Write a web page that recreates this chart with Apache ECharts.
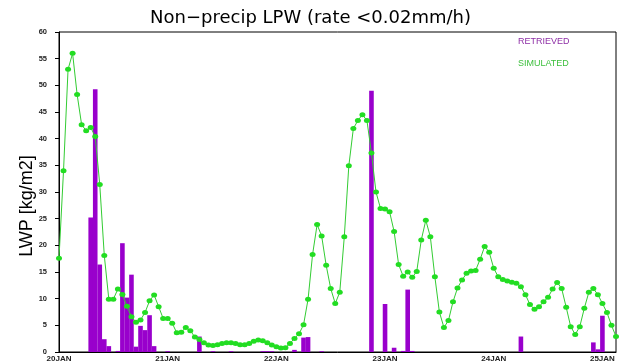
<!DOCTYPE html>
<html>
<head>
<meta charset="utf-8">
<script src="https://cdn.jsdelivr.net/npm/echarts@6/dist/echarts.min.js"></script>
<style>
  html, body { margin: 0; padding: 0; background: #ffffff; }
  #chart { width: 621px; height: 364px; }
</style>
</head>
<body>
<div id="chart"></div>
<script>
// Hourly samples, hour 0 = 20JAN 00Z
const dayLabels = ['20JAN', '21JAN', '22JAN', '23JAN', '24JAN', '25JAN'];
const lastHour = 123;

// Simulated LWP, one value per hour (kg/m2)
const simulated = [
  17.6, 34.0, 53.0, 56.0, 48.3, 42.6, 41.5, 42.1, 40.4, 31.4,
  18.1, 9.9, 9.9, 11.8, 10.8, 8.6, 6.6, 5.6, 6.0, 7.4,
  9.6, 10.7, 8.5, 6.3, 6.3, 5.4, 3.6, 3.7, 4.6, 4.0,
  2.8, 2.35, 1.75, 1.3, 1.2, 1.35, 1.6, 1.75, 1.75, 1.6,
  1.35, 1.35, 1.6, 2.0, 2.25, 2.1, 1.75, 1.3, 1.0, 0.75,
  0.8, 1.6, 2.55, 3.4, 5.1, 9.9, 18.3, 23.9, 21.75, 16.25,
  11.9, 9.1, 11.2, 21.6, 34.9, 41.9, 43.4, 44.5, 43.4, 37.3,
  30.0, 26.9, 26.8, 26.3, 22.6, 16.4, 14.2, 15.0, 14.0, 15.1,
  21.0, 24.7, 21.6, 14.1, 7.5, 4.6, 5.9, 9.4, 12.0, 13.5,
  14.75, 15.2, 15.3, 17.4, 19.8, 18.7, 15.7, 14.1, 13.6, 13.3,
  13.1, 12.9, 12.25, 10.75, 8.9, 8.0, 8.5, 9.4, 10.25, 11.8,
  13.05, 11.9, 8.4, 4.75, 3.3, 4.75, 8.2, 11.2, 11.9, 10.75,
  9.1, 7.4, 5.0, 2.9
];

// Retrieved LWP: hours with a non-zero retrieval and their values
const retrievedHours = [
  7, 8, 9, 10, 11, 13, 14, 15, 16, 17, 18, 19, 20, 21, 24,
  31, 34, 38, 45, 46, 47, 52, 54, 55, 58,
  69, 72, 74, 76, 77, 78, 102, 118, 119, 120
];
const retrievedValues = [
  25.2, 49.25, 16.4, 2.4, 1.1, 0.2, 20.4, 10.2, 14.5, 1.0, 4.9, 4.1, 6.9, 1.1, 0.15,
  2.9, 0.15, 0.15, 0.15, 0.15, 0.15, 0.4, 2.7, 2.8, 0.15,
  49.0, 9.0, 0.8, 0.2, 11.7, 0.2, 2.9, 1.8, 0.5, 6.8
];

const yTicks = { min: 0, max: 60, step: 5 };

const chart = echarts.init(document.getElementById('chart'), null, { renderer: 'canvas' });

const simData = simulated.map((v, h) => [h, v]);
const retData = retrievedHours.map((h, i) => [h, retrievedValues[i]]);

const purple = '#9900cc';
const green = '#33cc33';
const smallFont = 'Liberation Sans, Arial, sans-serif';

chart.setOption({
  animation: false,
  backgroundColor: '#ffffff',
  title: {
    text: 'Non\u2212precip LPW (rate <0.02mm/h)',
    left: 'center',
    top: 4,
    textStyle: {
      fontFamily: 'DejaVu Sans, sans-serif',
      fontSize: 18,
      fontWeight: 'normal',
      color: '#000000'
    }
  },
  legend: {
    orient: 'vertical',
    left: 508,
    top: 32,
    itemGap: 13,
    itemWidth: 0,
    itemHeight: 0,
    icon: 'none',
    selectedMode: false,
    textStyle: { fontFamily: smallFont, fontSize: 9 },
    data: [
      { name: 'RETRIEVED', textStyle: { color: '#8e2fa6' } },
      { name: 'SIMULATED', textStyle: { color: '#3cbf3c' } }
    ]
  },
  grid: { left: 59, right: 5, top: 32, bottom: 12, containLabel: false,
          show: true, borderColor: '#000000', borderWidth: 1 },
  xAxis: {
    type: 'value',
    min: 0,
    max: lastHour,
    interval: 24,
    axisLine: { show: true, onZero: false, lineStyle: { color: '#000000', width: 1 } },
    axisTick: { show: false },
    splitLine: { show: false },
    axisLabel: {
      margin: 3,
      fontFamily: smallFont,
      fontSize: 8,
      fontWeight: 'bold',
      color: '#222222',
      showMaxLabel: true,
      formatter: function (v) {
        return v % 24 === 0 ? dayLabels[v / 24] : '';
      }
    }
  },
  yAxis: {
    type: 'value',
    min: yTicks.min,
    max: yTicks.max,
    interval: yTicks.step,
    axisLine: { show: true, lineStyle: { color: '#000000', width: 1 } },
    axisTick: { show: true, inside: false, length: 4, lineStyle: { color: '#000000' } },
    splitLine: { show: false },
    axisLabel: {
      margin: 12,
      fontFamily: smallFont,
      fontSize: 7.5,
      fontWeight: 'bold',
      color: '#222222'
    }
  },
  graphic: [{
    type: 'text',
    x: 27,
    y: 206,
    rotation: Math.PI / 2,
    style: {
      text: 'LWP [kg/m2]',
      fontFamily: 'Liberation Sans, Arial, sans-serif',
      fontSize: 18,
      fill: '#000000',
      textAlign: 'center',
      textVerticalAlign: 'middle'
    }
  }],
  series: [
    {
      name: 'RETRIEVED',
      type: 'bar',
      data: retData,
      barWidth: 4.6,
      itemStyle: { color: purple },
      z: 2
    },
    {
      name: 'SIMULATED',
      type: 'line',
      data: simData,
      symbol: 'circle',
      symbolSize: [6, 5],
      showAllSymbol: true,
      lineStyle: { color: green, width: 1 },
      itemStyle: { color: '#22dd22', borderWidth: 0 },
      z: 3
    }
  ]
});
</script>
</body>
</html>
